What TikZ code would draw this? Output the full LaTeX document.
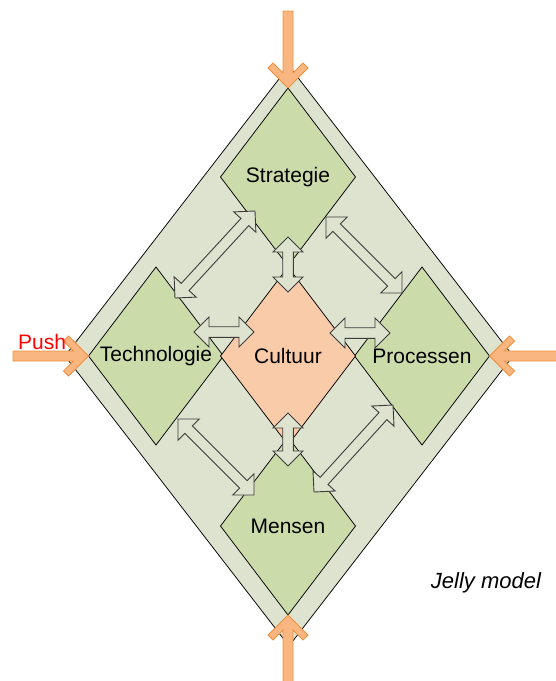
\documentclass[tikz,border=0pt]{standalone}
\usepackage{fontspec}
\setmainfont{Liberation Sans}
\usetikzlibrary{shapes.geometric, calc}

\definecolor{jellyback}{RGB}{222,227,207}
\definecolor{pillargreen}{RGB}{204,219,170}
\definecolor{corepeach}{RGB}{250,203,168}
\definecolor{pushfill}{RGB}{249,182,128}
\definecolor{pushline}{RGB}{240,145,65}
\definecolor{linkline}{RGB}{60,60,60}

% two-headed block arrow from #1 to #2
\newcommand{\linkarrow}[2]{%
  \filldraw[linkbox] (#1)
    -- ($(#1)!15pt!(#2)!15pt!90:(#2)$) -- ($(#1)!15pt!(#2)!5.3pt!90:(#2)$)
    -- ($(#2)!15pt!(#1)!5.3pt!-90:(#1)$) -- ($(#2)!15pt!(#1)!15pt!-90:(#1)$)
    -- (#2)
    -- ($(#2)!15pt!(#1)!15pt!90:(#1)$) -- ($(#2)!15pt!(#1)!5.3pt!90:(#1)$)
    -- ($(#1)!15pt!(#2)!5.3pt!-90:(#2)$) -- ($(#1)!15pt!(#2)!15pt!-90:(#2)$)
    -- cycle;}

% pushing arrow, tip at #1, tail at #2
\newcommand{\pusharrow}[2]{%
  \filldraw[pushbox] (#1)
    -- ($(#1)!20pt!(#2)!20pt!90:(#2)$) -- ($(#1)!25pt!(#2)!15pt!90:(#2)$)
    -- ($(#1)!15pt!(#2)!5pt!90:(#2)$) -- ($(#2)!5pt!-90:(#1)$)
    -- ($(#2)!5pt!90:(#1)$) -- ($(#1)!15pt!(#2)!5pt!-90:(#2)$)
    -- ($(#1)!25pt!(#2)!15pt!-90:(#2)$) -- ($(#1)!20pt!(#2)!20pt!-90:(#2)$)
    -- cycle;}

\begin{document}
\begin{tikzpicture}[x=1pt, y=-1pt, font=\fontsize{21}{25}\selectfont,
  pane/.style={diamond, draw, fill=jellyback, line width=0.75pt, inner sep=0pt,
    outer sep=0pt, minimum width=448pt, minimum height=580pt},
  pillarbox/.style={diamond, draw, fill=pillargreen, line width=0.75pt, inner sep=0pt,
    outer sep=0pt, minimum width=135pt, minimum height=178pt},
  corebox/.style={pillarbox, fill=corepeach},
  linkbox/.style={draw=linkline, fill=jellyback, line width=0.9pt, line join=miter},
  pushbox/.style={draw=pushline, fill=pushfill, line width=0.9pt, line join=miter}]
  \useasboundingbox (0,0) rectangle (556,681);

  % Outer frame
  \node[pane] (jelly) at (289,356) {};

  % The four pillars and the core
  \node[pillarbox] (strat) at (288,177) {Strategie};
  \node[pillarbox] (tech) at (156,356) {Technologie};
  \node[pillarbox] (proc) at (422,356) {Processen};
  \node[pillarbox] (mens) at (288,526) {Mensen};
  \node[corebox] (cult) at (288,356) {Cultuur};

  % Links between the parts
  \linkarrow{$(strat)+(-33,34)$}{$(tech)+(19,-58)$}
  \linkarrow{$(strat)+(38,40)$}{$(proc)+(-20,-63)$}
  \linkarrow{$(tech)+(22,63)$}{$(mens)+(-34,-31)$}
  \linkarrow{$(proc)+(-29,49)$}{$(mens)+(26,-34)$}
  \linkarrow{$(tech)+(38,-24)$}{$(cult)+(-34,-24)$}
  \linkarrow{$(cult)+(42,-23)$}{$(proc)+(-32,-23)$}
  \linkarrow{$(strat)+(0,60)$}{$(cult)+(0,-64)$}
  \linkarrow{$(cult)+(0,57)$}{$(mens)+(0,-60)$}

  % Pressure from outside
  \coordinate (topend) at (288,11);
  \coordinate (leftend) at (13,356);
  \coordinate (rightend) at (562,356);
  \coordinate (bottomend) at (288,688);
  \pusharrow{strat.north}{topend}
  \pusharrow{tech.west}{leftend}
  \pusharrow{proc.east}{rightend}
  \pusharrow{mens.south}{bottomend}

  % Labels
  \node[text=red] (push) at (42,342) {Push};
  \node[font=\fontsize{22}{26}\selectfont\itshape] (caption) at (486,583) {Jelly model};
\end{tikzpicture}
\end{document}
